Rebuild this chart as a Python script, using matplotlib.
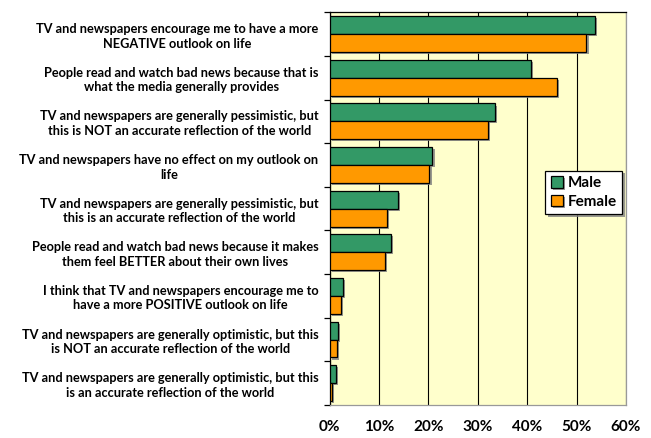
import matplotlib.pyplot as plt
import matplotlib.patheffects as pe
import numpy as np

# ── data ──────────────────────────────────────────────────────────────────────
statements = [
    "TV and newspapers encourage me to have a more\nNEGATIVE outlook on life",
    "People read and watch bad news because that is\nwhat the media generally provides",
    "TV and newspapers are generally pessimistic, but\nthis is NOT an accurate reflection of the world",
    "TV and newspapers have no effect on my outlook on\nlife",
    "TV and newspapers are generally pessimistic, but\nthis is an accurate reflection of the world",
    "People read and watch bad news because it makes\nthem feel BETTER about their own lives",
    "I think that TV and newspapers encourage me to\nhave a more POSITIVE outlook on life",
    "TV and newspapers are generally optimistic, but this\nis NOT an accurate reflection of the world",
    "TV and newspapers are generally optimistic, but this\nis an accurate reflection of the world",
]
male = [53.8, 40.8, 33.5, 20.8, 13.8, 12.4, 2.6, 1.6, 1.35]
female = [52.0, 46.0, 32.0, 20.2, 11.5, 11.1, 2.3, 1.5, 0.4]
x_ticks = [0, 10, 20, 30, 40, 50, 60]

GREEN = "#339966"
ORANGE = "#FF9900"
BG = "#FFFFCC"

plt.rcParams["font.family"] = ["Lato", "DejaVu Sans"]
plt.rcParams["font.weight"] = "bold"

fig = plt.figure(figsize=(6.51, 4.38), dpi=100)
ax = fig.add_axes([0.5065, 0.0753, 0.4551, 0.8967])
ax.set_facecolor(BG)

y = np.arange(len(statements))
h = 0.41
shadow = [pe.SimplePatchShadow(offset=(1.5, -1.5), shadow_rgbFace="#808080", alpha=0.8), pe.Normal()]
bm = ax.barh(y - h / 2, male, height=h, color=GREEN, edgecolor="black", linewidth=0.9,
             label="Male", zorder=3)
bf = ax.barh(y + h / 2, female, height=h, color=ORANGE, edgecolor="black", linewidth=0.9,
             label="Female", zorder=3)
for bar in list(bm) + list(bf):
    bar.set_path_effects(shadow)

ax.set_xlim(0, 60)
ax.set_ylim(len(statements) - 0.5, -0.5)

ax.set_xticks(x_ticks)
ax.set_xticklabels([f"{v}%" for v in x_ticks], fontsize=11, fontweight="bold")
ax.tick_params(axis="x", length=0, pad=11)
ax.grid(axis="x", color="black", linewidth=0.8, zorder=1)

ax.set_yticks(y)
ax.set_yticklabels(statements, fontsize=9.2, fontweight="bold", multialignment="center",
                   linespacing=1.25)
ax.set_yticks(np.arange(-0.5, len(statements), 1), minor=True)
ax.tick_params(axis="y", which="major", length=0, pad=8)
ax.tick_params(axis="y", which="minor", length=4, width=0.9, direction="out")

ax.spines["left"].set_color("black")
ax.spines["top"].set_color("black")
ax.spines["right"].set_color("#999999")
ax.spines["bottom"].set_color("#999999")
for s in ax.spines.values():
    s.set_linewidth(0.9)

leg = ax.legend(loc="upper left", bbox_to_anchor=(0.728, 0.597), borderaxespad=0,
                fontsize=11, frameon=True, fancybox=False, shadow=False, edgecolor="black",
                framealpha=1, handlelength=0.8, handleheight=0.8, handletextpad=0.3,
                borderpad=0.35, labelspacing=0.3)
leg.get_frame().set_linewidth(0.9)
leg.get_frame().set_path_effects([pe.SimplePatchShadow(offset=(2, -2), shadow_rgbFace="#808080", alpha=0.8), pe.Normal()])
for t in leg.get_texts():
    t.set_fontweight("bold")

fig.savefig("out.png", dpi=100)
